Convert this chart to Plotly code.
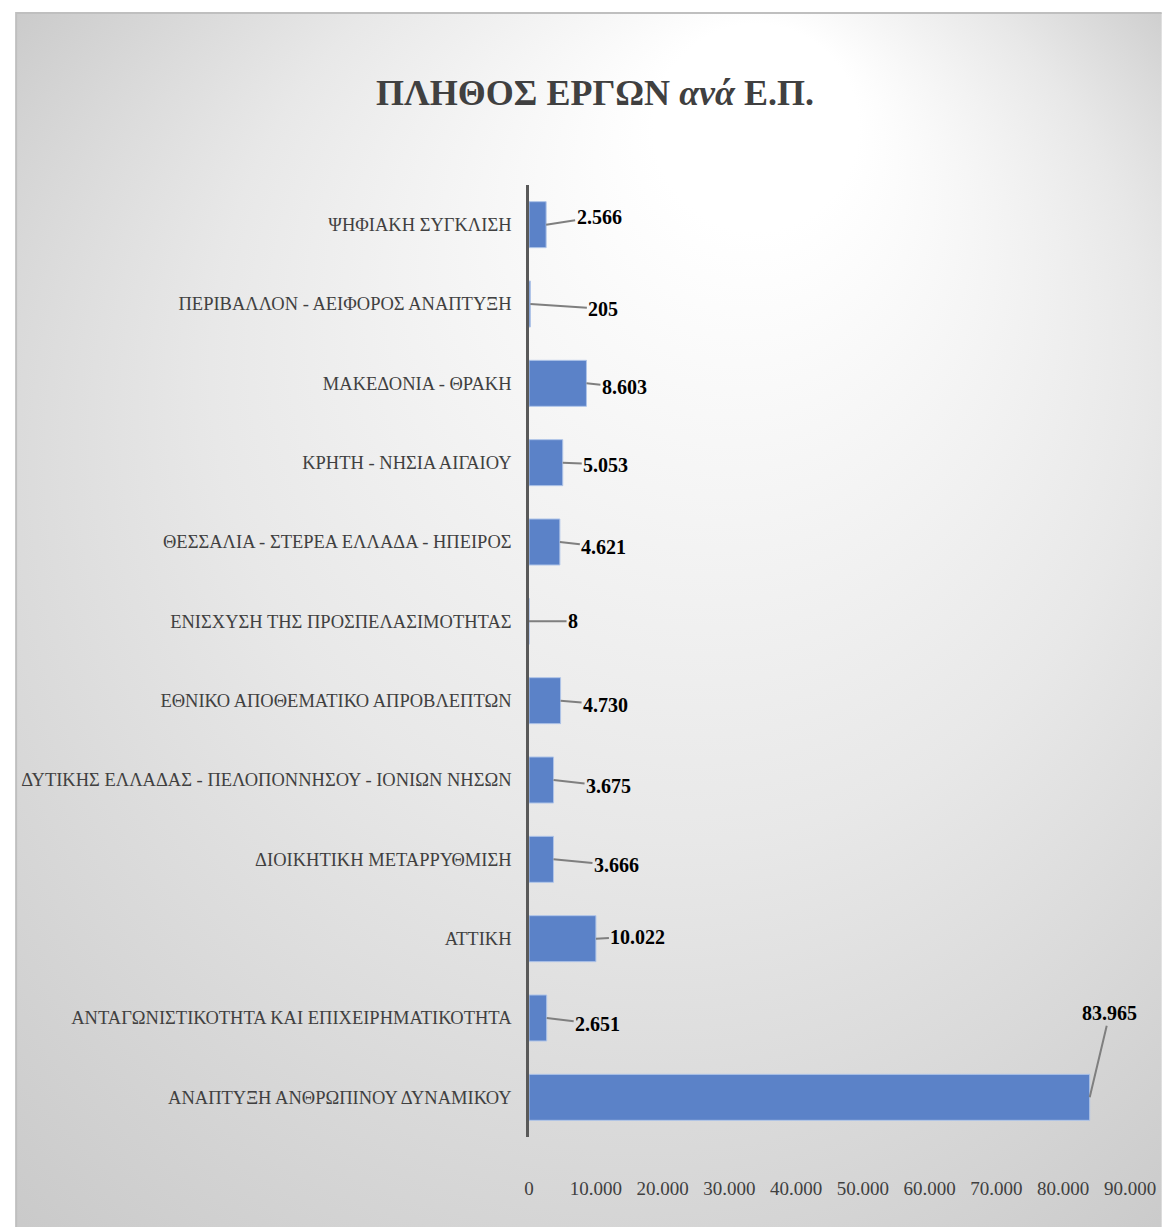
import base64
import plotly.graph_objects as go

# ---------------- data ----------------
categories = [
    "ΑΝΑΠΤΥΞΗ ΑΝΘΡΩΠΙΝΟΥ ΔΥΝΑΜΙΚΟΥ",
    "ΑΝΤΑΓΩΝΙΣΤΙΚΟΤΗΤΑ ΚΑΙ ΕΠΙΧΕΙΡΗΜΑΤΙΚΟΤΗΤΑ",
    "ΑΤΤΙΚΗ",
    "ΔΙΟΙΚΗΤΙΚΗ ΜΕΤΑΡΡΥΘΜΙΣΗ",
    "ΔΥΤΙΚΗΣ ΕΛΛΑΔΑΣ - ΠΕΛΟΠΟΝΝΗΣΟΥ - ΙΟΝΙΩΝ ΝΗΣΩΝ",
    "ΕΘΝΙΚΟ ΑΠΟΘΕΜΑΤΙΚΟ ΑΠΡΟΒΛΕΠΤΩΝ",
    "ΕΝΙΣΧΥΣΗ ΤΗΣ ΠΡΟΣΠΕΛΑΣΙΜΟΤΗΤΑΣ",
    "ΘΕΣΣΑΛΙΑ - ΣΤΕΡΕΑ ΕΛΛΑΔΑ - ΗΠΕΙΡΟΣ",
    "ΚΡΗΤΗ - ΝΗΣΙΑ ΑΙΓΑΙΟΥ",
    "ΜΑΚΕΔΟΝΙΑ - ΘΡΑΚΗ",
    "ΠΕΡΙΒΑΛΛΟΝ - ΑΕΙΦΟΡΟΣ ΑΝΑΠΤΥΞΗ",
    "ΨΗΦΙΑΚΗ ΣΥΓΚΛΙΣΗ",
]
project_counts = [83965, 2651, 10022, 3666, 3675, 4730, 8, 4621, 5053, 8603, 205, 2566]
x_tick_values = [0, 10000, 20000, 30000, 40000, 50000, 60000, 70000, 80000, 90000]
title_text = "ΠΛΗΘΟΣ ΕΡΓΩΝ <i>ανά</i> Ε.Π."

# label leader-line offsets (pixels), style only
label_offsets = [(20, -84), (51, 6), (42, -2), (63, 6), (55, 6), (45, 4),
                 (44, 0), (44, 5), (43, 2), (38, 4), (73, 5), (53, -8)]

# ---------------- layout geometry ----------------
W, H = 1168, 1227
ML, MR, MT, MB = 529, 32, 185, 90
PW, PH = W - ML - MR, H - MT - MB

FONT = "Liberation Serif, Times New Roman, serif"
GREY_TXT = "#404040"

def fmt(v):
    return f"{v:,}".replace(",", ".")

fig = go.Figure()
fig.add_trace(go.Bar(
    x=project_counts,
    y=categories,
    orientation="h",
    marker=dict(color="#5B82C8", line=dict(color="#AFC4E8", width=1)),
    hoverinfo="x+y",
))

annotations = []
for cat, val, (ax, ay) in zip(categories, project_counts, label_offsets):
    annotations.append(dict(
        x=val, y=cat, xref="x", yref="y",
        text=fmt(val), showarrow=True, arrowhead=0, arrowwidth=2,
        arrowcolor="#7F7F7F", ax=ax, ay=ay, standoff=0, startstandoff=0,
        font=dict(family=FONT, size=20, color="#000000", weight="bold"),
    ))

# background: radial grey gradient with light border
svg = f"""<svg xmlns='http://www.w3.org/2000/svg' width='{W}' height='{H}' viewBox='0 0 {W} {H}'>
<defs><radialGradient id='g' gradientUnits='userSpaceOnUse' cx='600' cy='620' r='860' fx='780' fy='60'>
<stop offset='0' stop-color='#ffffff'/><stop offset='0.12' stop-color='#ffffff'/>
<stop offset='0.55' stop-color='#e8e8e8'/><stop offset='1' stop-color='#c9c9c9'/></radialGradient></defs>
<rect x='0' y='0' width='{W}' height='{H}' fill='#ffffff'/>
<rect x='11' y='13' width='{W + 20}' height='{H + 20}' fill='url(#g)' stroke='#bfbfbf' stroke-width='2'/>
</svg>"""
src = "data:image/svg+xml;base64," + base64.b64encode(svg.encode("utf-8")).decode("ascii")

fig.update_layout(
    width=W, height=H,
    margin=dict(l=ML, r=MR, t=MT, b=MB, pad=0),
    paper_bgcolor="#ffffff",
    plot_bgcolor="rgba(0,0,0,0)",
    separators=",.",
    showlegend=False,
    bargap=0.42,
    title=dict(
        text=title_text, x=595 / W, xanchor="center", y=1 - 92 / H, yanchor="middle",
        font=dict(family=FONT, size=36, color=GREY_TXT, weight="bold"),
    ),
    xaxis=dict(
        range=[0, 90000], tickvals=x_tick_values, tickformat=",d",
        showgrid=False, zeroline=False, showline=False,
        ticks="outside", ticklen=34, tickcolor="rgba(0,0,0,0)",
        tickfont=dict(family=FONT, size=19, color=GREY_TXT),
        fixedrange=True,
    ),
    yaxis=dict(
        categoryorder="array", categoryarray=categories,
        range=[-0.5, len(categories) - 0.5],
        showgrid=False, zeroline=False, showline=True,
        linecolor="#595959", linewidth=2.5,
        ticks="outside", ticklen=11, tickcolor="rgba(0,0,0,0)",
        tickfont=dict(family=FONT, size=18.5, color=GREY_TXT),
        fixedrange=True,
    ),
    annotations=annotations,
    images=[dict(
        source=src, xref="paper", yref="paper",
        x=-ML / PW, y=1 + MT / PH, sizex=W / PW, sizey=H / PH,
        xanchor="left", yanchor="top", sizing="stretch", layer="below",
    )],
)

fig.write_html(
    "out.html",
    config={"displayModeBar": False},
    post_script="document.body.style.margin='0';document.body.style.overflow='hidden';",
)
